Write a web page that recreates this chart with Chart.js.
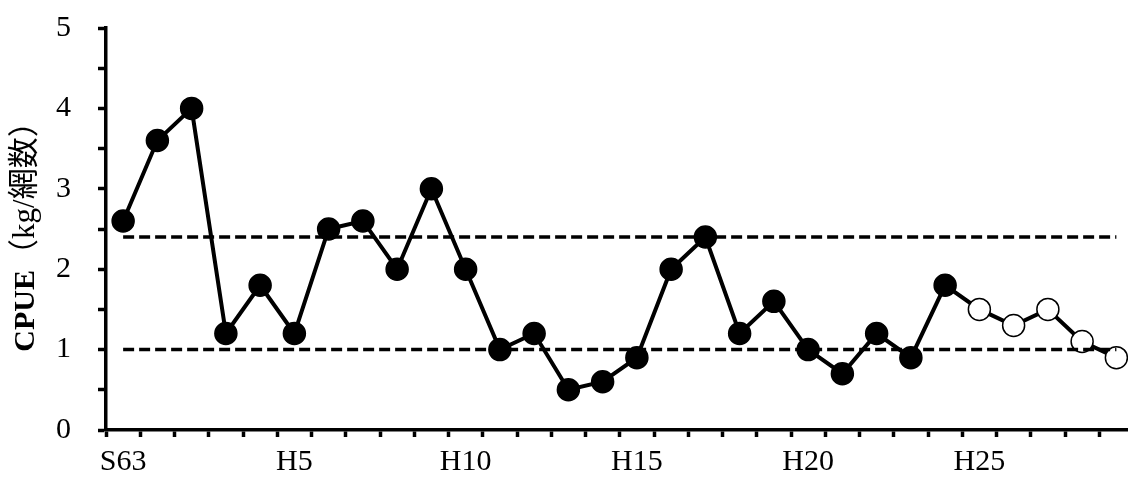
<!DOCTYPE html>
<html>
<head>
<meta charset="utf-8">
<script src="https://cdn.jsdelivr.net/npm/chart.js@4"></script>
<style>
    html, body { margin: 0; padding: 0; background: #fff; overflow: hidden; }
    #cpueChart { display: block; }
</style>
</head>
<body>
<canvas id="cpueChart" width="1146" height="478"></canvas>
<script>
// years on the x axis
const categories = ["S63","H1","H2","H3","H4","H5","H6","H7","H8","H9",
    "H10","H11","H12","H13","H14","H15","H16","H17","H18","H19",
    "H20","H21","H22","H23","H24","H25","H26","H27","H28","H29"];

// CPUE (kg per net)
const cpue = [2.6,3.6,4.0,1.2,1.8,1.2,2.5,2.6,2.0,3.0,
    2.0,1.0,1.2,0.5,0.6,0.9,2.0,2.4,1.2,1.6,
    1.0,0.7,1.2,0.9,1.8,1.5,1.3,1.5,1.1,0.9];

// points from this year on are drawn open
const openFrom = "H25";

// reference levels (dashed)
const upperLevel = 2.4;
const lowerLevel = 1.0;

const openIndex = categories.indexOf(openFrom);
const serif = "'Liberation Serif', 'Times New Roman', serif";

// y axis title: bold CPUE + normal (kg/網数)
const yTitlePlugin = {
    id: "yTitle",
    afterDraw(chart) {
        const ctx = chart.ctx;
        const area = chart.chartArea;
        const partA = "CPUE";
        const partB = "（kg/網数）";
        ctx.save();
        ctx.translate(26, (area.top + area.bottom) / 2);
        ctx.rotate(-Math.PI / 2);
        ctx.fillStyle = "#000";
        ctx.textBaseline = "middle";
        ctx.textAlign = "left";
        const fontA = "bold 30px " + serif;
        const fontB = "31px 'Liberation Serif', 'Noto Sans CJK JP', serif";
        ctx.font = fontA;
        const wA = ctx.measureText(partA).width;
        ctx.font = fontB;
        const wB = ctx.measureText(partB).width;
        let x = -(wA + wB) / 2;
        ctx.font = fontA;
        ctx.fillText(partA, x, 0);
        ctx.font = fontB;
        ctx.fillText(partB, x + wA, 0);
        ctx.restore();
    }
};

document.addEventListener("DOMContentLoaded", () => {
    new Chart(document.getElementById("cpueChart"), {
        type: "line",
        data: {
            labels: categories,
            datasets: [
                {
                    label: "CPUE",
                    data: cpue,
                    borderColor: "#000",
                    borderWidth: 4,
                    pointRadius: 11,
                    pointBorderWidth: 1.5,
                    pointBorderColor: "#000",
                    pointBackgroundColor: ctx => ctx.dataIndex >= openIndex ? "#fff" : "#000",
                    tension: 0,
                    order: 2
                },
                {
                    label: "upper",
                    data: categories.map(() => upperLevel),
                    borderColor: "#000",
                    borderWidth: 3.5,
                    borderDash: [11, 5],
                    pointRadius: 0,
                    order: 1
                },
                {
                    label: "lower",
                    data: categories.map(() => lowerLevel),
                    borderColor: "#000",
                    borderWidth: 3.5,
                    borderDash: [11, 5],
                    pointRadius: 0,
                    order: 1
                }
            ]
        },
        options: {
            responsive: false,
            animation: false,
            layout: { padding: { top: 28, right: 1, left: 0, bottom: 0 } },
            scales: {
                x: {
                    offset: true,
                    grid: {
                        offset: true,
                        drawOnChartArea: false,
                        drawTicks: true,
                        tickLength: 7,
                        tickWidth: 3.5,
                        tickColor: "#000"
                    },
                    border: { display: true, width: 3.5, color: "#000" },
                    ticks: {
                        autoSkip: false,
                        maxRotation: 0,
                        padding: 7,
                        color: "#000",
                        font: { family: serif, size: 30 },
                        callback: (value, index) => index % 5 === 0 ? categories[index] : ""
                    },
                    afterFit: scale => { scale.height = 48; scale.paddingLeft = 0; scale.paddingRight = 0; }
                },
                y: {
                    min: 0,
                    max: 5,
                    grid: {
                        drawOnChartArea: false,
                        drawTicks: true,
                        tickLength: 8,
                        tickWidth: 3.5,
                        tickColor: "#000"
                    },
                    border: { display: true, width: 3.5, color: "#000" },
                    ticks: {
                        stepSize: 0.5,
                        padding: 27,
                        color: "#000",
                        font: { family: serif, size: 30 },
                        callback: value => Number.isInteger(value) ? value : ""
                    },
                    afterFit: scale => { scale.width = 106; scale.paddingTop = 0; scale.paddingBottom = 0; }
                }
            },
            plugins: {
                legend: { display: false },
                tooltip: { enabled: false }
            }
        },
        plugins: [yTitlePlugin]
    });
});
</script>
</body>
</html>
